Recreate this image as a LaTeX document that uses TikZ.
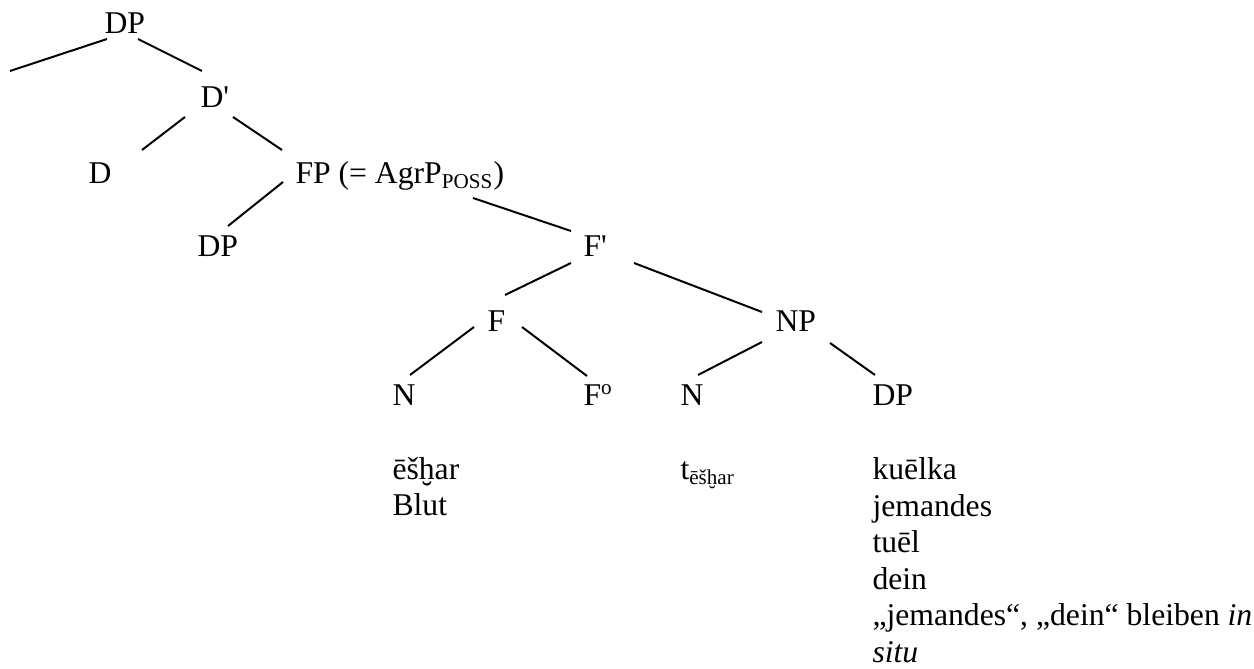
\documentclass[tikz,border=0pt]{standalone}
\usepackage{fontspec}
\setmainfont{Liberation Serif}

\tikzset{
  cat/.style={inner sep=0pt, anchor=base west, font=\fontsize{12}{13.8}\selectfont},
  branch/.style={line width=0.75pt}
}

\begin{document}
\begin{tikzpicture}[x=0.379pt,y=-0.379pt]
  \useasboundingbox (0,0) rectangle (1254,669);

  % categories
  \node[cat] (dp)     at (104,34)  {DP};
  \node[cat] (dbar)   at (200,108) {D\textquotesingle};
  \node[cat] (d)      at (88,184)  {D};
  \node[cat] (fp)     at (295,184) {FP (= AgrP\textsubscript{POSS})};
  \node[cat] (dpspec) at (197,257) {DP};
  \node[cat] (fbar)   at (583,257) {F\textquotesingle};
  \node[cat] (f)      at (487,332) {F};
  \node[cat] (np)     at (775,332) {NP};
  \node[cat] (nhead)  at (392,406) {N};
  \node[cat] (fzero)  at (583,406) {F\textsuperscript{o}};
  \node[cat] (ntrace) at (680,406) {N};
  \node[cat] (dpcomp) at (872,406) {DP};
  \coordinate (spec) at (10,71);

  % words
  \node[cat] (esh)   at (392,480) {ēšḫar};
  \node[cat] (blut)  at (392,516) {Blut};
  \node[cat] (trace) at (680,480) {t\textsubscript{ēšḫar}};
  \foreach \w [count=\i] in {kuēlka, jemandes, tuēl, dein,
      {„jemandes“, „dein“ bleiben \textit{in}}, \textit{situ}}
    \node[cat] (comp\i) at (872,{480+36.5*(\i-1)}) {\w};

  \path[branch]
    ([shift={(3,5)}]dp.base west)      edge (spec)
    ([shift={(34,5)}]dp.base west)     edge ([shift={(2,-37)}]dbar.base west)
    ([shift={(-15,9)}]dbar.base west)  edge ([shift={(54,-34)}]d.base west)
    ([shift={(33,9)}]dbar.base west)   edge ([shift={(-13,-34)}]fp.base west)
    ([shift={(-12,-2)}]fp.base west)   edge ([shift={(31,-31)}]dpspec.base west)
    ([shift={(178,14)}]fp.base west)   edge ([shift={(-12,-26)}]fbar.base west)
    ([shift={(-12,6)}]fbar.base west)  edge ([shift={(18,-37)}]f.base west)
    ([shift={(51,6)}]fbar.base west)   edge ([shift={(-13,-20)}]np.base west)
    ([shift={(-13,-5)}]f.base west)    edge ([shift={(18,-31)}]nhead.base west)
    ([shift={(35,-5)}]f.base west)     edge ([shift={(4,-30)}]fzero.base west)
    ([shift={(-13,10)}]np.base west)   edge ([shift={(18,-31)}]ntrace.base west)
    ([shift={(55,11)}]np.base west)    edge ([shift={(3,-31)}]dpcomp.base west);
\end{tikzpicture}
\end{document}
